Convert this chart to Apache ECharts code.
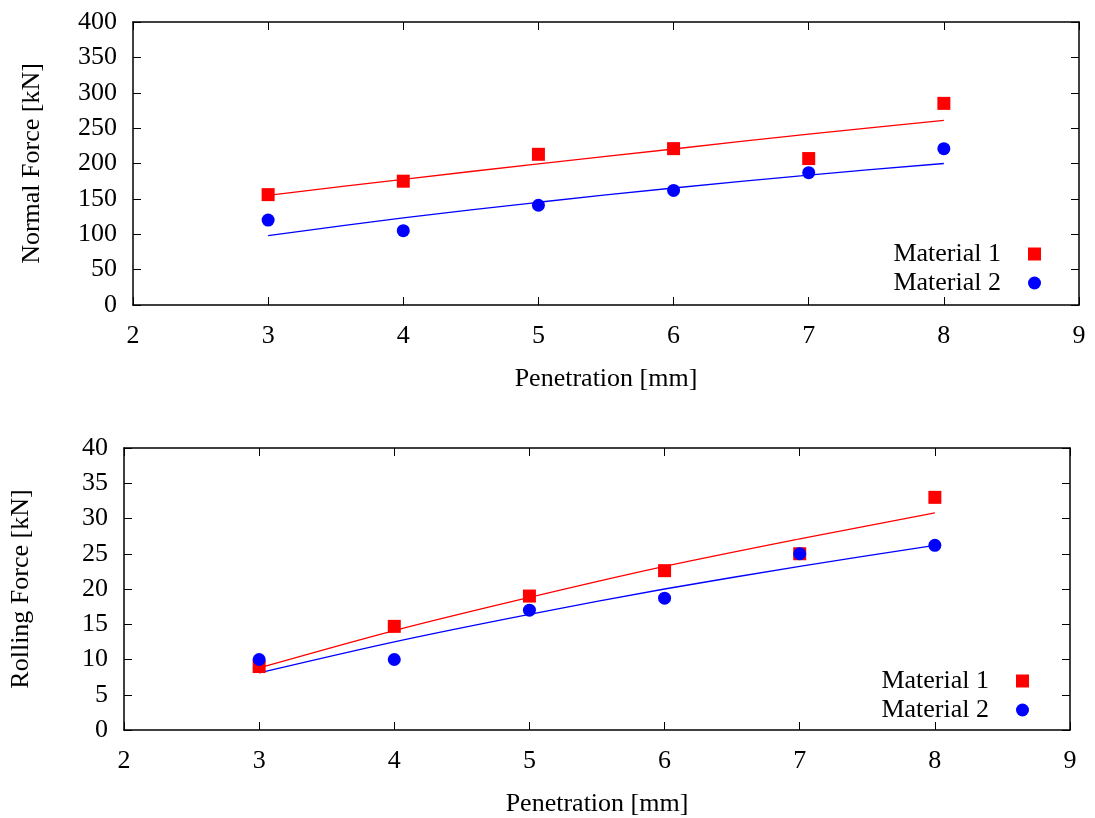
<!DOCTYPE html>
<html>
<head>
<meta charset="utf-8">
<script src="https://cdn.jsdelivr.net/npm/echarts@6/dist/echarts.min.js"></script>
<style>html,body{margin:0;padding:0;background:#fff}#c{width:1095px;height:818px}</style>
</head>
<body>
<div id="c"></div>
<script>
// Data
const penetration = [3, 4, 5, 6, 7, 8];
const normalM1 = [156, 175, 213, 221, 207, 285];
const normalM2 = [120, 105, 141, 162, 187, 221];
const rollingM1 = [9, 14.7, 19, 22.6, 25, 33];
const rollingM2 = [10, 10, 17, 18.7, 25, 26.2];
// fitted curves, read at each penetration value
const normalFitM1 = [155, 177.7, 199.5, 220.5, 241.6, 261];
const normalFitM2 = [98, 123.1, 145.2, 165.4, 183.7, 200];
const rollingFitM1 = [8.8, 14.1, 18.8, 23.2, 27.1, 30.8];
const rollingFitM2 = [8.1, 12.5, 16.4, 20.0, 23.2, 26.2];
const seriesNames = ['Material 1', 'Material 2'];
const xLabel = 'Penetration [mm]';
const yLabelTop = 'Normal Force [kN]';
const yLabelBottom = 'Rolling Force [kN]';

const FONT = 'Liberation Serif';
const FS = 26;
const pair = (xs, ys) => xs.map((x, i) => [x, ys[i]]);

function xAxes(gi) {
  const base = {
    type: 'value', gridIndex: gi, min: 2, max: 9, interval: 1,
    axisLine: { show: true, onZero: false, lineStyle: { color: '#000', width: 1.5 } },
    axisTick: { show: true, inside: true, length: 8, lineStyle: { color: '#000', width: 1 } },
    splitLine: { show: false }
  };
  return [
    Object.assign({}, base, {
      position: 'bottom',
      axisLabel: { color: '#000', fontFamily: FONT, fontSize: FS, margin: 18 },
      name: xLabel, nameLocation: 'middle', nameGap: 61,
      nameTextStyle: { color: '#000', fontFamily: FONT, fontSize: FS }
    }),
    Object.assign({}, base, { position: 'top', axisLabel: { show: false } })
  ];
}
function yAxes(gi, max, interval, name, gap) {
  const base = {
    type: 'value', gridIndex: gi, min: 0, max: max, interval: interval,
    axisLine: { show: true, onZero: false, lineStyle: { color: '#000', width: 1.5 } },
    axisTick: { show: true, inside: true, length: 8, lineStyle: { color: '#000', width: 1 } },
    splitLine: { show: false }
  };
  return [
    Object.assign({}, base, {
      position: 'left',
      axisLabel: { color: '#000', fontFamily: FONT, fontSize: FS, margin: 16 },
      name: name, nameLocation: 'middle', nameGap: gap,
      nameTextStyle: { color: '#000', fontFamily: FONT, fontSize: FS }
    }),
    Object.assign({}, base, { position: 'right', axisLabel: { show: false } })
  ];
}

function scatter(name, xi, yi, data, symbol, color) {
  return {
    name: name, type: 'scatter', xAxisIndex: xi, yAxisIndex: yi,
    data: data, symbol: symbol, symbolSize: 13,
    itemStyle: { color: color, opacity: 1 }, z: 3
  };
}
function fit(xi, yi, data, color) {
  return {
    type: 'line', xAxisIndex: xi, yAxisIndex: yi, data: data,
    showSymbol: false, symbol: 'none', silent: true, smooth: 0.3,
    lineStyle: { color: color, width: 1.3 }, z: 2
  };
}

function legend(top, right) {
  return {
    data: [{ name: seriesNames[0], icon: 'rect' }, { name: seriesNames[1], icon: 'circle' }],
    orient: 'vertical', align: 'right', top: top, right: right,
    itemWidth: 13, itemHeight: 13, itemGap: 3,
    selectedMode: false,
    itemStyle: { opacity: 1 },
    textStyle: { color: '#000', fontFamily: FONT, fontSize: FS, padding: [0, 22, 0, 0] }
  };
}

const option = {
  animation: false,
  backgroundColor: '#fff',
  grid: [
    { left: 133, right: 16, top: 22, height: 283 },
    { left: 124, right: 25, top: 448, height: 283.5 }
  ],
  xAxis: xAxes(0).concat(xAxes(1)),
  yAxis: yAxes(0, 400, 50, yLabelTop, 88).concat(yAxes(1, 40, 5, yLabelBottom, 90)),
  legend: [legend(236, 49), legend(663, 61)],
  series: [
    fit(0, 0, pair(penetration, normalFitM1), '#ff0000'),
    fit(0, 0, pair(penetration, normalFitM2), '#0000ff'),
    scatter(seriesNames[0], 0, 0, pair(penetration, normalM1), 'rect', '#ff0000'),
    scatter(seriesNames[1], 0, 0, pair(penetration, normalM2), 'circle', '#0000ff'),
    fit(2, 2, pair(penetration, rollingFitM1), '#ff0000'),
    fit(2, 2, pair(penetration, rollingFitM2), '#0000ff'),
    scatter(seriesNames[0], 2, 2, pair(penetration, rollingM1), 'rect', '#ff0000'),
    scatter(seriesNames[1], 2, 2, pair(penetration, rollingM2), 'circle', '#0000ff')
  ]
};
const chart = echarts.init(document.getElementById('c'), null, { renderer: 'canvas' });
chart.setOption(option);
</script>
</body>
</html>
